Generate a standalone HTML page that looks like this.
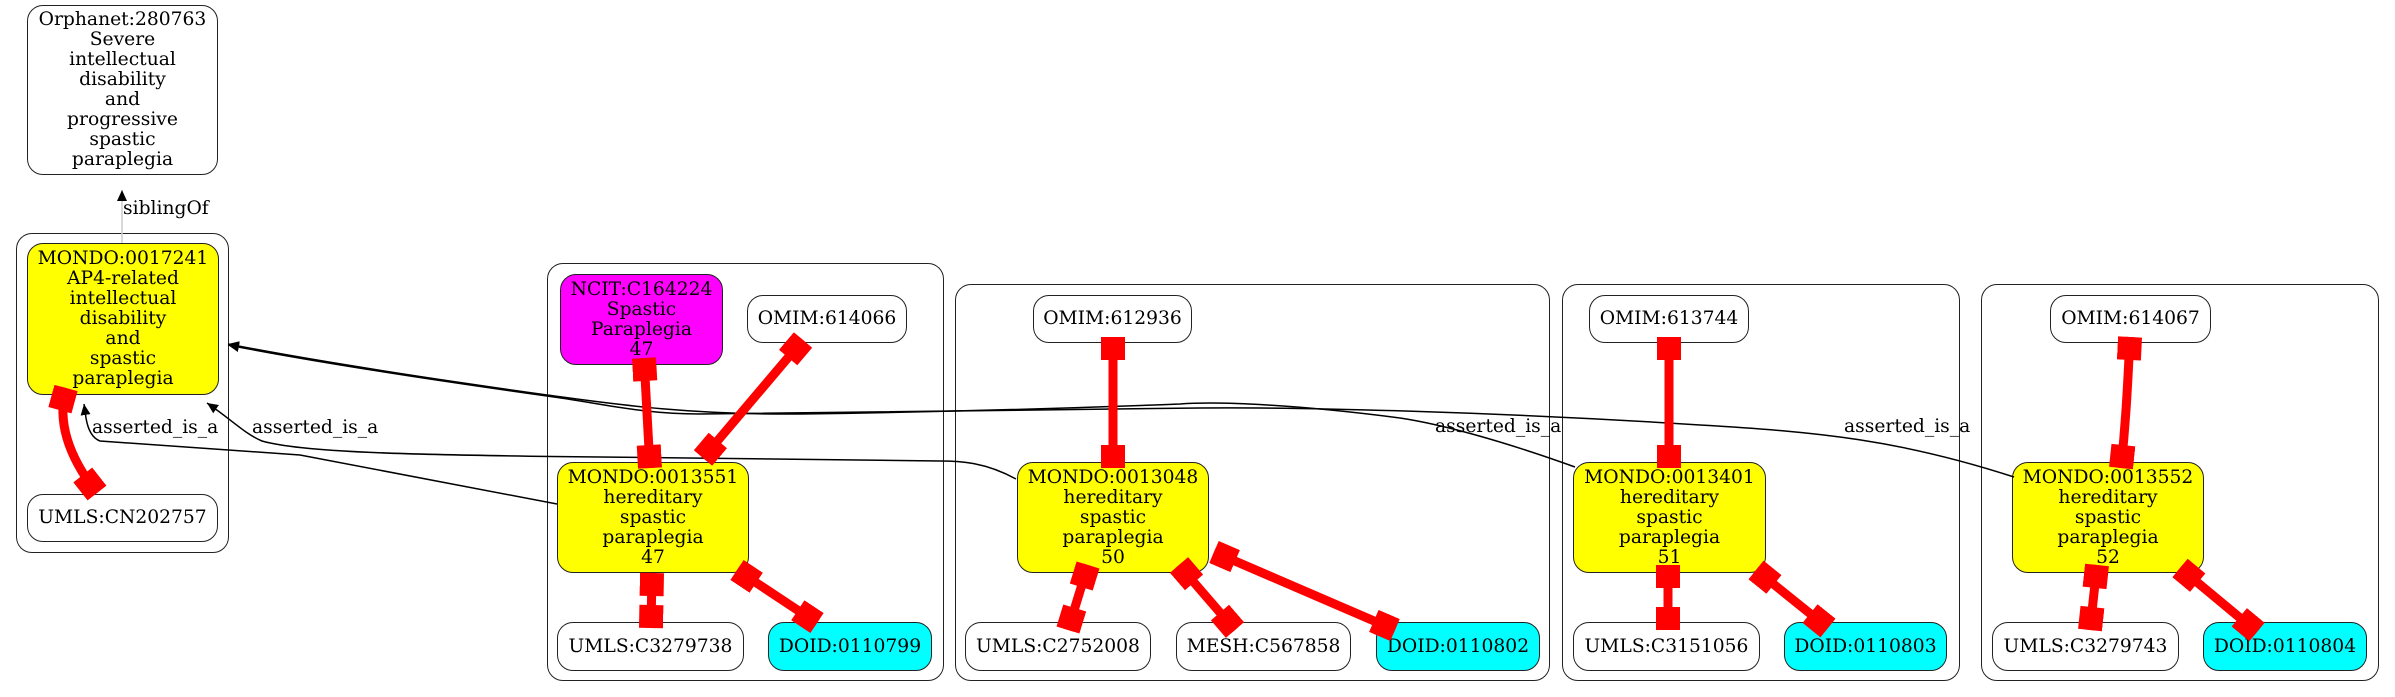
<!DOCTYPE html>
<html><head><meta charset="utf-8">
<style>
html,body{margin:0;padding:0;background:#fff;}
body{width:2395px;height:697px;position:relative;overflow:hidden;font-family:"DejaVu Serif","Liberation Serif",serif;}
.c{position:absolute;border:1.5px solid #222;border-radius:16px;box-sizing:border-box;}
.n{position:absolute;border:1.5px solid #222;border-radius:16px;box-sizing:border-box;display:flex;align-items:center;justify-content:center;text-align:center;font-size:18.7px;line-height:20px;color:#000;background:#fff;}
.y{background:#ff0;}
.m{background:#f0f;}
.cy{background:#0ff;}
.lbl{position:absolute;font-size:18.7px;line-height:20px;white-space:nowrap;}
svg{position:absolute;left:0;top:0;}
</style></head><body>
<div class="c" style="left:16px;top:233px;width:213px;height:320px"></div>
<div class="c" style="left:547px;top:263px;width:397px;height:418px"></div>
<div class="c" style="left:955px;top:284px;width:595px;height:397px"></div>
<div class="c" style="left:1562px;top:284px;width:398px;height:397px"></div>
<div class="c" style="left:1981px;top:284px;width:398px;height:397px"></div>

<div class="n" style="left:27px;top:5px;width:191px;height:170px">Orphanet:280763<br>Severe<br>intellectual<br>disability<br>and<br>progressive<br>spastic<br>paraplegia</div>
<div class="n y" style="left:27px;top:243px;width:192px;height:152px">MONDO:0017241<br>AP4-related<br>intellectual<br>disability<br>and<br>spastic<br>paraplegia</div>
<div class="n" style="left:27px;top:494px;width:191px;height:48px">UMLS:CN202757</div>

<div class="n m" style="left:560px;top:274px;width:163px;height:91px">NCIT:C164224<br>Spastic<br>Paraplegia<br>47</div>
<div class="n" style="left:747px;top:295px;width:160px;height:48px">OMIM:614066</div>
<div class="n y" style="left:557px;top:462px;width:192px;height:111px">MONDO:0013551<br>hereditary<br>spastic<br>paraplegia<br>47</div>
<div class="n" style="left:557px;top:622px;width:187px;height:49px">UMLS:C3279738</div>
<div class="n cy" style="left:768px;top:622px;width:164px;height:49px">DOID:0110799</div>

<div class="n" style="left:1033px;top:295px;width:159px;height:48px">OMIM:612936</div>
<div class="n y" style="left:1017px;top:462px;width:192px;height:111px">MONDO:0013048<br>hereditary<br>spastic<br>paraplegia<br>50</div>
<div class="n" style="left:965px;top:622px;width:186px;height:49px">UMLS:C2752008</div>
<div class="n" style="left:1176px;top:622px;width:175px;height:49px">MESH:C567858</div>
<div class="n cy" style="left:1376px;top:622px;width:164px;height:49px">DOID:0110802</div>

<div class="n" style="left:1589px;top:295px;width:160px;height:48px">OMIM:613744</div>
<div class="n y" style="left:1573px;top:462px;width:193px;height:111px">MONDO:0013401<br>hereditary<br>spastic<br>paraplegia<br>51</div>
<div class="n" style="left:1573px;top:622px;width:187px;height:49px">UMLS:C3151056</div>
<div class="n cy" style="left:1784px;top:622px;width:163px;height:49px">DOID:0110803</div>

<div class="n" style="left:2050px;top:295px;width:161px;height:48px">OMIM:614067</div>
<div class="n y" style="left:2012px;top:462px;width:192px;height:111px">MONDO:0013552<br>hereditary<br>spastic<br>paraplegia<br>52</div>
<div class="n" style="left:1992px;top:622px;width:187px;height:49px">UMLS:C3279743</div>
<div class="n cy" style="left:2203px;top:622px;width:164px;height:49px">DOID:0110804</div>

<div class="lbl" style="left:123px;top:199px">siblingOf</div>
<div class="lbl" style="left:92px;top:418px">asserted_is_a</div>
<div class="lbl" style="left:252px;top:418px">asserted_is_a</div>
<div class="lbl" style="left:1435px;top:417px">asserted_is_a</div>
<div class="lbl" style="left:1844px;top:417px">asserted_is_a</div>

<svg width="2395" height="697" viewBox="0 0 2395 697">
<defs>
<marker id="ar" markerUnits="userSpaceOnUse" markerWidth="14" markerHeight="12" refX="11" refY="6" orient="auto"><path d="M0,1 L11,6 L0,11 Z" fill="#000"/></marker>
<marker id="bx" markerUnits="userSpaceOnUse" markerWidth="26" markerHeight="26" refX="24" refY="12" orient="auto-start-reverse"><rect x="1" y="0" width="23" height="24" fill="#f00"/></marker>
</defs>
<g fill="none" stroke="#000" stroke-width="1.5">
<path d="M122,243 L122,190" stroke="#ccc" marker-end="url(#ar)"/>
<path d="M1575,467 C1500,440 1440,424 1400,418 C1300,405 1220,401 1180,404 C1050,409 940,412 800,414 C680,415 600,402 547,395 C440,380 320,362 228,344" marker-end="url(#ar)"/>
<path d="M2014,477 C1900,440 1820,432 1700,425 C1500,412 1300,407 1200,408 C1000,410 820,413 700,414 C640,414 600,403 547,396 C440,381 320,363 228,345" marker-end="url(#ar)"/>
<path d="M1016,479 C985,462 960,461 940,461 L600,457 C400,455 300,452 262,441 C245,434 232,420 207,403" marker-end="url(#ar)"/>
<path d="M557,504 L300,455 L100,441 C92,438 88,430 86,418 L84,404" marker-end="url(#ar)"/>
</g>
<g fill="none" stroke="#f00" stroke-width="9" marker-start="url(#bx)" marker-end="url(#bx)">
<path d="M97,493 C75,465 55,428 66,388"/>
<path d="M644,358 L650,468"/>
<path d="M803,340 L703,458"/>
<path d="M652,573 L651,628"/>
<path d="M737,570 L817,623"/>
<path d="M1113,337 L1113,468"/>
<path d="M1088,565 L1068,630"/>
<path d="M1179,565 L1235,630"/>
<path d="M1214,552 L1395,630"/>
<path d="M1669,337 L1669,468"/>
<path d="M1668,565 L1668,630"/>
<path d="M1756,570 L1828,628"/>
<path d="M2130,337 C2127,400 2125,430 2121,468"/>
<path d="M2097,565 L2090,630"/>
<path d="M2180,568 L2257,632"/>
</g>
</svg>
</body></html>
